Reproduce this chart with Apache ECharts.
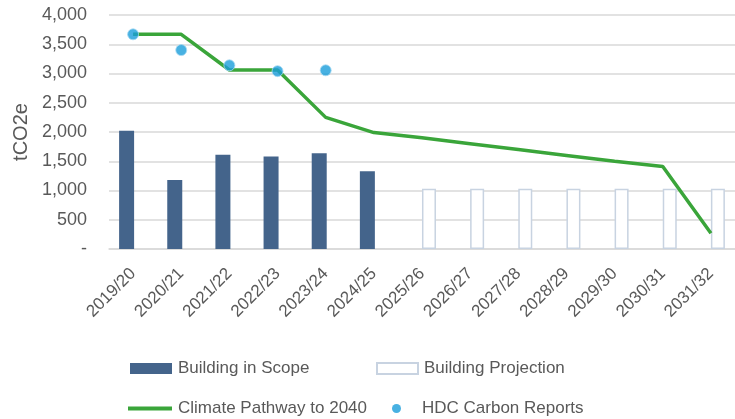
<!DOCTYPE html>
<html>
<head>
<meta charset="utf-8">
<script src="https://cdn.jsdelivr.net/npm/echarts@6/dist/echarts.min.js"></script>
<style>
  html, body { margin: 0; padding: 0; background: #fff; }
  #chart { width: 735px; height: 419px; }
</style>
</head>
<body>
<div id="chart"></div>
<script>
const years = ["2019/20", "2020/21", "2021/22", "2022/23", "2023/24", "2024/25", "2025/26",
  "2026/27", "2027/28", "2028/29", "2029/30", "2030/31", "2031/32"];
const inScope = [2020, 1180, 1610, 1580, 1635, 1330, null, null, null, null, null, null, null];
const projection = [null, null, null, null, null, null, 1030, 1030, 1030, 1030, 1030, 1030, 1030];
const pathway = [3670, 3670, 3060, 3060, 2250, 1990, 1900, 1800, 1700, 1600, 1500, 1410, 270];
const hdcReports = [3670, 3400, 3140, 3040, 3055, null, null, null, null, null, null, null, null];
const yTicks = [0, 500, 1000, 1500, 2000, 2500, 3000, 3500, 4000];

const font = "Liberation Sans";
const textColor = "#595959";

const chart = echarts.init(document.getElementById("chart"));

function legendAt(name, left, top, extra) {
  return Object.assign({
    data: [name],
    left: left,
    top: top,
    itemWidth: 42,
    itemHeight: 11,
    itemGap: 0,
    textStyle: { color: textColor, fontFamily: font, fontSize: 17, padding: [0, 0, 0, 1] },
  }, extra || {});
}

const option = {
  animation: false,
  grid: { left: 109, right: 0, top: 15, bottom: 170 },
  legend: [
    legendAt("Building in Scope", 125, 355, { icon: "rect" }),
    legendAt("Building Projection", 371, 355, { icon: "rect", itemWidth: 41 }),
    legendAt("Climate Pathway to 2040", 123, 395, { icon: "rect", itemWidth: 44, itemHeight: 4 }),
    legendAt("HDC Carbon Reports", 387, 395, {
      icon: "circle",
      itemWidth: 9,
      itemHeight: 9,
      itemStyle: { borderWidth: 0, color: "#1a9edb" },
      textStyle: { color: textColor, fontFamily: font, fontSize: 17, padding: [0, 0, 0, 16] },
    }),
  ],
  xAxis: {
    type: "category",
    data: years,
    axisLine: { lineStyle: { color: "#d9d9d9", width: 1.5 } },
    axisTick: { show: false },
    axisLabel: {
      rotate: 45,
      margin: 22,
      interval: 0,
      color: textColor,
      fontFamily: font,
      fontSize: 17,
    },
  },
  yAxis: {
    type: "value",
    min: 0,
    max: yTicks[yTicks.length - 1],
    interval: 500,
    name: "tCO2e",
    nameLocation: "middle",
    nameGap: 77,
    nameTextStyle: { color: textColor, fontFamily: font, fontSize: 20 },
    axisLine: { show: false },
    axisTick: { show: false },
    axisLabel: {
      margin: 22,
      color: textColor,
      fontFamily: font,
      fontSize: 18,
      formatter: (v) => (v === 0 ? "-" : v.toLocaleString("en-US")),
    },
    splitLine: { lineStyle: { color: "#d9d9d9", width: 1.5 } },
  },
  series: [
    {
      name: "Building in Scope",
      type: "bar",
      data: inScope,
      barWidth: 15,
      barGap: "-7%",
      itemStyle: { color: "#44648b" },
    },
    {
      name: "Building Projection",
      type: "bar",
      data: projection,
      barWidth: 14,
      itemStyle: { color: "#ffffff", borderColor: "#c8d3e1", borderWidth: 1.5 },
    },
    {
      name: "Climate Pathway to 2040",
      type: "line",
      data: pathway,
      symbol: "none",
      lineStyle: { color: "#3aa53a", width: 3.5 },
      itemStyle: { color: "#3aa53a" },
      z: 3,
    },
    {
      name: "HDC Carbon Reports",
      type: "scatter",
      data: hdcReports,
      symbolSize: 11,
      itemStyle: { color: "#1a9edb", borderColor: "#a8daf2", borderWidth: 1 },
      z: 4,
    },
  ],
};

chart.setOption(option);
window.addEventListener("resize", () => chart.resize());
</script>
</body>
</html>
